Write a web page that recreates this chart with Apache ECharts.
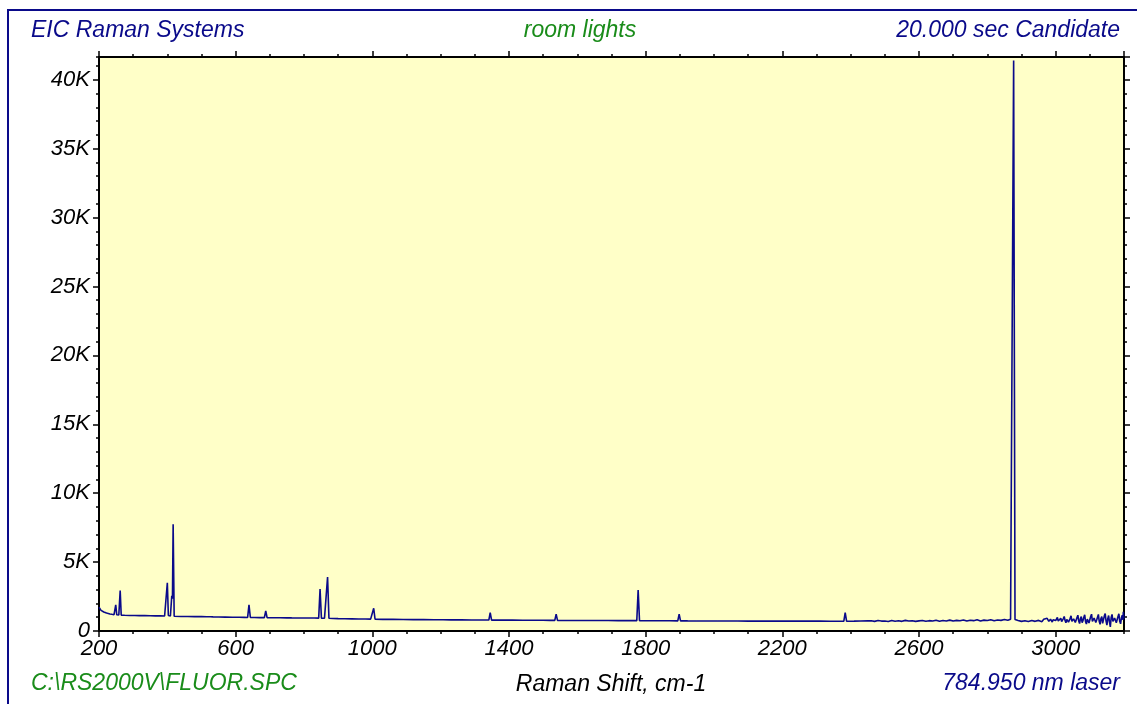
<!DOCTYPE html>
<html><head><meta charset="utf-8">
<script src="https://cdn.jsdelivr.net/npm/echarts@6/dist/echarts.min.js"></script>
<style>html,body{margin:0;padding:0;background:#fff}#c{width:1137px;height:704px}</style>
</head><body><div id="c"></div>
<script>
// ---- data (Raman shift cm-1, counts) ----
const spectrumLow = [[200,1720],[202,1600],[204,1640],[206,1500],[208,1460],[211,1420],[214,1380],[218,1330],[222,1300],[227,1270],[232,1240],[238,1210],[244,1190],[246,1185],[249,1900],[252,1175],[258,1165],[260,1170],[262,2930],[265,1155],[275,1140],[290,1130],[305,1125],[318,1115],[326,1120],[330,1210],[334,1115],[350,1105],[365,1100],[380,1095],[392,1090],[397,1085],[400,3500],[403,1120],[409,1090],[413,2560],[415,2350],[417,7750],[420,1070],[425,1060],[440,1055],[460,1050],[480,1045],[500,1040],[515,1035],[526,1030],[530,1170],[534,1025],[550,1020],[570,1010],[590,1000],[610,995],[625,990],[635,985],[639,1890],[643,980],[655,975],[670,970],[684,968],[688,1450],[692,965],[710,962],[730,958],[750,955],[764,950],[767,1080],[770,948],[790,945],[810,942],[830,938],[843,935],[847,3050],[851,935],[860,930],[865,928],[869,3920],[873,920],[885,910],[900,900],[920,890],[940,882],[960,875],[980,868],[995,862],[1000,860],[1004,1650],[1008,852]];
const spectrumMid = [[1030,846],[1060,840],[1090,834],[1120,828],[1150,822],[1180,818],[1199,815],[1203,960],[1207,812],[1230,808],[1260,805],[1290,802],[1320,799],[1341,796],[1345,1330],[1349,792],[1353,810],[1357,792],[1380,790],[1410,787],[1440,784],[1470,780],[1500,777],[1520,774],[1534,772],[1538,1230],[1542,770],[1570,767],[1600,764],[1630,762],[1660,759],[1690,757],[1720,754],[1750,752],[1774,750],[1778,2980],[1782,748],[1810,745],[1840,742],[1870,739],[1894,737],[1898,1230],[1902,735],[1915,735],[1919,860],[1923,733],[1950,730],[1980,728],[2010,726],[2040,724],[2070,722],[2100,720],[2130,719],[2160,718],[2190,717],[2220,716],[2250,715],[2280,714],[2310,713],[2340,712],[2365,712],[2380,712],[2384,1330],[2388,712]];
const spectrumHigh = [[2410,716],[2430,725],[2450,735],[2460,740],[2470,700],[2480,760],[2490,720],[2500,730],[2510,690],[2520,760],[2530,710],[2540,740],[2550,700],[2560,770],[2570,720],[2580,745],[2590,700],[2600,735],[2610,765],[2620,705],[2630,750],[2640,720],[2650,780],[2660,710],[2670,760],[2680,730],[2690,790],[2700,720],[2710,770],[2720,740],[2730,800],[2740,720],[2750,780],[2760,750],[2770,810],[2780,730],[2790,790],[2800,760],[2810,820],[2820,740],[2830,800],[2840,770],[2850,830],[2860,780],[2868,850],[2873,820],[2877,41400],[2881,830],[2885,880],[2890,760],[2895,840],[2900,700],[2905,820],[2910,740],[2915,860],[2920,690],[2925,830],[2930,760],[2935,880],[2940,700],[2945,840],[2950,770],[2955,900],[2960,680],[2965,850],[2970,740],[2975,920],[2980,700],[2985,860],[2990,650],[2992.5,820],[2995,900],[2997.5,700],[3000,760],[3002.5,880],[3005,980],[3007.5,720],[3010,640],[3012.5,860],[3015,930],[3017.5,680],[3020,720],[3022.5,900],[3025,1050],[3027.5,760],[3030,600],[3032.5,840],[3035,960],[3037.5,640],[3040,780],[3042.5,920],[3045,1100],[3047.5,700],[3050,560],[3052.5,880],[3055,1000],[3057.5,620],[3060,700],[3062.5,980],[3065,1150],[3067.5,720],[3070,540],[3072.5,900],[3075,1050],[3077.5,600],[3080,760],[3082.5,1000],[3085,1180],[3087.5,680],[3090,500],[3092.5,860],[3095,980],[3097.5,580],[3100,640],[3102.5,1050],[3105,1220],[3107.5,700],[3110,560],[3112.5,940],[3115,1080],[3117.5,620],[3120,800],[3122.5,1000],[3125,1200],[3127.5,700],[3130,480],[3132.5,900],[3135,1050],[3137.5,560],[3140,680],[3142.5,1100],[3145,1260],[3147.5,720],[3150,420],[3152.5,900],[3155,1120],[3157.5,640],[3160,300],[3162.5,980],[3165,1200],[3167.5,700],[3170,560],[3172.5,940],[3175,1080],[3177.5,600],[3180,640],[3182.5,1050],[3185,1250],[3187.5,700],[3190,520],[3192.5,960],[3195,1150],[3197,800],[3198,1400],[3200,900]];
const xRange = [200, 3200];
const yRange = [0, 41650];
const xMajorStep = 400, xMinorStep = 100;
const yMajorStep = 5000, yMinorStep = 1000;
const headerTexts = ['EIC Raman Systems', 'room lights', '20.000 sec Candidate'];
const footerTexts = ['C:\\RS2000V\\FLUOR.SPC', 'Raman Shift, cm-1', '784.950 nm laser'];

const spectrum = spectrumLow.concat(spectrumMid, spectrumHigh);
const NAVY = '#0a0a8a', GREEN = '#1a8c1a';
const FONT = '"Liberation Sans", Arial, sans-serif';
const gridRect = {left: 99, top: 57, width: 1025, height: 574};

function xAx(grid, pos, step, tickLen, labels) {
  return {
    type: 'value', gridIndex: grid, position: pos, min: xRange[0], max: xRange[1], interval: step,
    axisLine: {show: grid === 0, onZero: false, lineStyle: {color: '#000', width: 2}},
    axisTick: {show: true, inside: false, length: tickLen, lineStyle: {color: '#000', width: 1.5}},
    axisLabel: {show: labels, margin: 7, color: '#000', fontSize: 22, fontStyle: 'italic', fontFamily: FONT, showMaxLabel: false, showMinLabel: true,
      formatter: v => String(v)},
    splitLine: {show: false}
  };
}
function yAx(grid, pos, step, tickLen, labels) {
  return {
    type: 'value', gridIndex: grid, position: pos, min: yRange[0], max: yRange[1], interval: step,
    axisLine: {show: grid === 0, onZero: false, lineStyle: {color: '#000', width: 2}},
    axisTick: {show: true, inside: false, length: tickLen, lineStyle: {color: '#000', width: 1.5}},
    axisLabel: {show: labels, margin: 9, color: '#000', fontSize: 22, fontStyle: 'italic', fontFamily: FONT, showMaxLabel: false,
      formatter: v => v === 0 ? '0' : (v / 1000) + 'K'},
    splitLine: {show: false}
  };
}

const chart = echarts.init(document.getElementById('c'), null, {renderer: 'canvas'});
chart.setOption({
  animation: false,
  backgroundColor: '#fff',
  grid: [
    Object.assign({show: true, backgroundColor: '#FFFFC8', borderWidth: 0, outerBoundsMode: 'none', containLabel: false}, gridRect),
    Object.assign({show: false, outerBoundsMode: 'none', containLabel: false}, gridRect)
  ],
  xAxis: [
    xAx(0, 'bottom', xMajorStep, 6, true),
    xAx(0, 'top', xMajorStep, 6, false),
    xAx(1, 'bottom', xMinorStep, 3, false),
    xAx(1, 'top', xMinorStep, 3, false)
  ],
  yAxis: [
    yAx(0, 'left', yMajorStep, 6, true),
    yAx(0, 'right', yMajorStep, 6, false),
    yAx(1, 'left', yMinorStep, 3, false),
    yAx(1, 'right', yMinorStep, 3, false)
  ],
  series: [{
    type: 'line', xAxisIndex: 0, yAxisIndex: 0, data: spectrum,
    showSymbol: false, symbol: 'none', sampling: false, smooth: false,
    lineStyle: {color: NAVY, width: 1.6}, clip: true, z: 3
  }],
  graphic: [
    {type: 'rect', shape: {x: 8, y: 10, width: 1140, height: 710}, style: {fill: 'none', stroke: NAVY, lineWidth: 2}, silent: true, z: 10},
    {type: 'text', x: 31, y: 31, style: {text: headerTexts[0], fill: NAVY, font: 'italic 23px ' + FONT, align: 'left', verticalAlign: 'middle'}},
    {type: 'text', x: 580, y: 31, style: {text: headerTexts[1], fill: GREEN, font: 'italic 23px ' + FONT, align: 'center', verticalAlign: 'middle'}},
    {type: 'text', x: 1120, y: 31, style: {text: headerTexts[2], fill: NAVY, font: 'italic 23px ' + FONT, align: 'right', verticalAlign: 'middle'}},
    {type: 'text', x: 31, y: 684, style: {text: footerTexts[0], fill: GREEN, font: 'italic 23px ' + FONT, align: 'left', verticalAlign: 'middle'}},
    {type: 'text', x: 611, y: 685, style: {text: footerTexts[1], fill: '#000', font: 'italic 23px ' + FONT, align: 'center', verticalAlign: 'middle'}},
    {type: 'text', x: 1120, y: 684, style: {text: footerTexts[2], fill: NAVY, font: 'italic 23px ' + FONT, align: 'right', verticalAlign: 'middle'}}
  ]
});
</script>
</body></html>
